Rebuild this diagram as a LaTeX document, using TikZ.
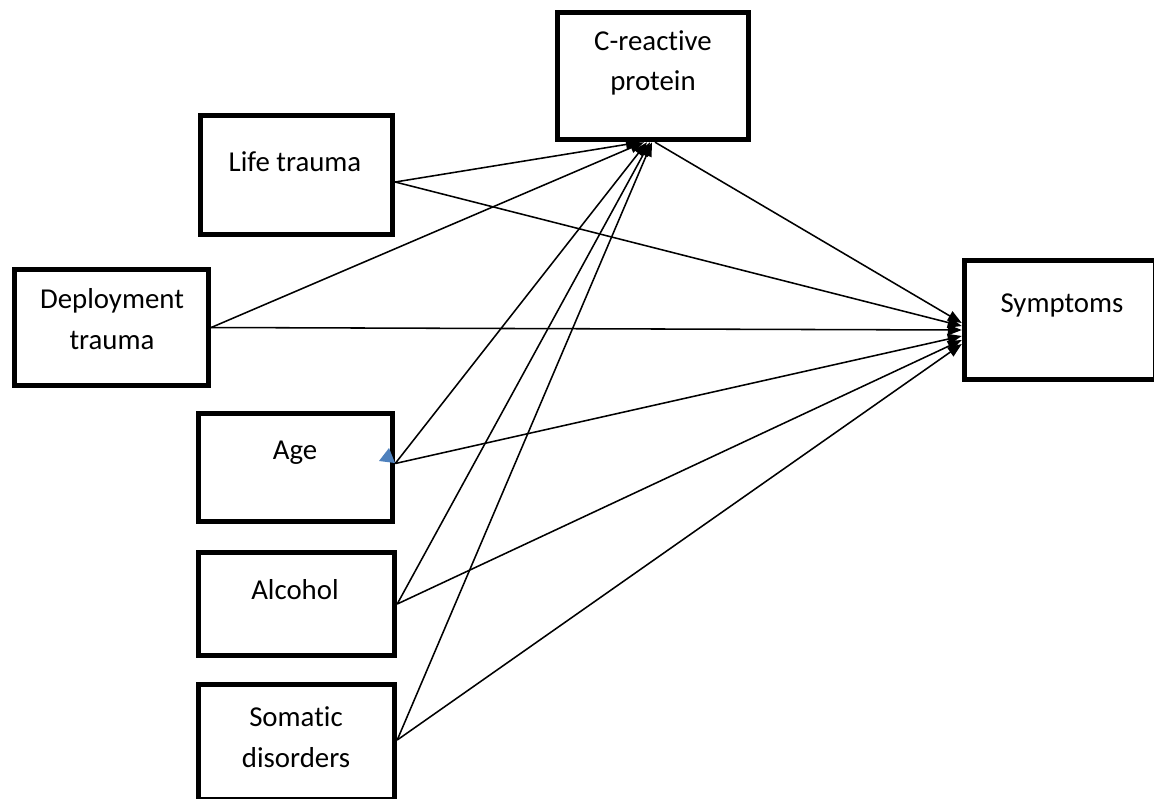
\documentclass[tikz,border=0pt]{standalone}
\usepackage{fontspec}
\setmainfont{Carlito}[Ligatures=NoCommon]
\usetikzlibrary{arrows.meta,calc}

\tikzset{
	box/.style 2 args={draw,line width=3.8pt,minimum width=#1,minimum height=#2,inner sep=0pt},
	lbl/.style={align=center,inner sep=0pt,font=\fontsize{20.5}{29}\selectfont},
	arr/.style={line width=1.1pt,-{Triangle[length=10pt,width=7.5pt]}}
}

\begin{document}
\begin{tikzpicture}[x=0.025cm,y=-0.025cm]
		\useasboundingbox (0,0) rectangle (1154,798);

		% boxes
		\node[box={4.775cm}{3.175cm}] (crp) at (653,76) {};
		\node[box={4.8cm}{2.975cm}] (life) at (296.5,175) {};
		\node[box={4.85cm}{2.9cm}] (deploy) at (111.5,327.5) {};
		\node[box={4.775cm}{2.975cm}] (symp) at (1060,320) {};
		\node[box={4.85cm}{2.7cm}] (age) at (295.5,467.5) {};
		\node[box={4.9cm}{2.575cm}] (alc) at (296.5,604) {};
		\node[box={4.9cm}{2.875cm}] (som) at (296.5,742) {};

		% texts
		\node[lbl] (crp-t) at (653,63) {C-reactive\\protein};
		\node[lbl] (life-t) at (295,162) {Life trauma};
		\node[lbl] (deploy-t) at (112,319) {Deployment\\trauma};
		\node[lbl] (symp-t) at (1062,305) {Symptoms};
		\node[lbl] (age-t) at (295,453) {Age};
		\node[lbl] (alc-t) at (295,590) {Alcohol};
		\node[lbl] (som-t) at (296,737) {Somatic\\disorders};

		% to C-reactive protein
		\draw[arr] ($(life.east)+(0,7)$) -- ($(crp.south)+(-13,0)$);
		\draw[arr] (deploy.east) -- ($(crp.south)+(-9,0)$);
		\draw[arr] ($(age.east)+(0,-4)$) -- ($(crp.south)+(-6,0)$);
		\draw[arr] (alc.east) -- ($(crp.south)+(-3,0)$);
		\draw[arr] ($(som.east)+(0,-2)$) -- ($(crp.south)+(-1,0)$);

		% to Symptoms
		\draw[arr] ($(crp.south)+(2,0)$) -- ($(symp.west)+(0,3)$);
		\draw[arr] ($(life.east)+(0,7)$) -- ($(symp.west)+(0,6)$);
		\draw[arr] (deploy.east) -- ($(symp.west)+(0,10)$);
		\draw[arr] ($(age.east)+(0,-4)$) -- ($(symp.west)+(0,16)$);
		\draw[arr] (alc.east) -- ($(symp.west)+(0,20)$);
		\draw[arr] ($(som.east)+(0,-2)$) -- ($(symp.west)+(0,24)$);

		\fill[color={rgb,255:red,79;green,129;blue,189}] (379,461) -- (389,448) -- (395,463) -- cycle;
	\end{tikzpicture}
\end{document}
